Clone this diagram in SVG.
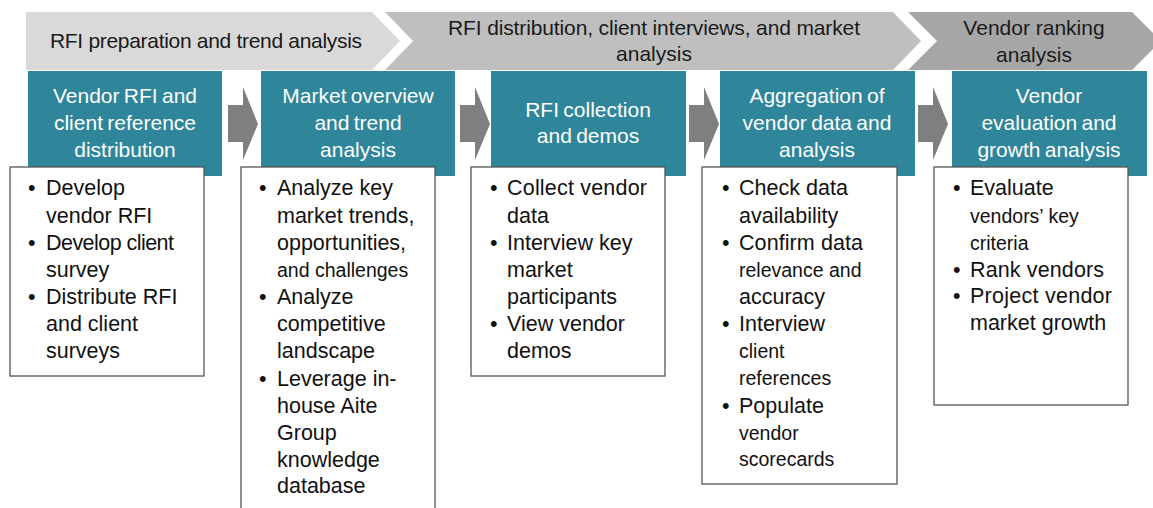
<svg xmlns="http://www.w3.org/2000/svg" width="1153" height="508" viewBox="0 0 1153 508">
<style>
text{font-family:"Liberation Sans",Arial,sans-serif}
.ph{font-size:21px;fill:#1a1a1a;text-anchor:middle}
.hd{fill:#2f8599}
.ht{font-size:21px;fill:#ffffff;text-anchor:middle;word-spacing:-1.5px}
.bx{fill:#ffffff;stroke:#555555;stroke-width:1.3}
.bt{font-size:21.5px;fill:#111111}
.sm{font-size:19.5px}
.ar{fill:#7f7f7f}
</style>
<rect width="1153" height="508" fill="#ffffff"/>
<g id="phases">
<g id="phase1">
<polygon points="26,12 372,12 400,41 372,70 26,70" fill="#d9d9d9"/>
<text class="ph" x="206" y="48" textLength="312" lengthAdjust="spacing">RFI preparation and trend analysis</text>
</g>
<g id="phase2">
<polygon points="385,12 893,12 921,41 893,70 385,70 413,41" fill="#bfbfbf"/>
<text class="ph" x="654" y="35" textLength="412" lengthAdjust="spacing">RFI distribution, client interviews, and market</text>
<text class="ph" x="654" y="61">analysis</text>
</g>
<g id="phase3">
<polygon points="908,12 1132,12 1161,41 1132,70 908,70 937,41" fill="#a6a6a6"/>
<text class="ph" x="1034" y="35">Vendor ranking</text>
<text class="ph" x="1034" y="62">analysis</text>
</g>
</g>
<g id="connectors">
<polygon class="ar" points="228,105 243,105 243,87 258,124 243,160 243,142 228,142"/>
<polygon class="ar" points="460,105 475,105 475,87 490,124 475,160 475,142 460,142"/>
<polygon class="ar" points="689,105 704,105 704,87 719,124 704,160 704,142 689,142"/>
<polygon class="ar" points="918,105 933,105 933,87 948,124 933,160 933,142 918,142"/>
</g>
<g id="step1">
<rect class="hd" x="28" y="71" width="194" height="105"/>
<text class="ht" x="125" y="103">Vendor RFI and</text>
<text class="ht" x="125" y="130">client reference</text>
<text class="ht" x="125" y="157">distribution</text>
<rect class="bx" x="10" y="167" width="194" height="209"/>
<text class="bt" x="28" y="195">•</text><text class="bt" x="46" y="195">Develop</text>
<text class="bt" x="46" y="223">vendor RFI</text>
<text class="bt" x="28" y="250">•</text><text class="bt" x="46" y="250" textLength="128" lengthAdjust="spacing">Develop client</text>
<text class="bt" x="46" y="277">survey</text>
<text class="bt" x="28" y="304">•</text><text class="bt" x="46" y="304">Distribute RFI</text>
<text class="bt" x="46" y="331">and client</text>
<text class="bt" x="46" y="358">surveys</text>
</g>
<g id="step2">
<rect class="hd" x="261" y="71" width="194" height="105"/>
<text class="ht" x="358" y="103">Market overview</text>
<text class="ht" x="358" y="130">and trend</text>
<text class="ht" x="358" y="157">analysis</text>
<rect class="bx" x="241" y="167" width="194" height="350"/>
<text class="bt" x="259" y="195">•</text><text class="bt" x="277" y="195">Analyze key</text>
<text class="bt" x="277" y="223">market trends,</text>
<text class="bt" x="277" y="250">opportunities,</text>
<text class="bt sm" x="277" y="277">and challenges</text>
<text class="bt" x="259" y="304">•</text><text class="bt" x="277" y="304">Analyze</text>
<text class="bt" x="277" y="331">competitive</text>
<text class="bt" x="277" y="358">landscape</text>
<text class="bt" x="259" y="386">•</text><text class="bt" x="277" y="386">Leverage in-</text>
<text class="bt" x="277" y="413">house Aite</text>
<text class="bt" x="277" y="440">Group</text>
<text class="bt" x="277" y="467">knowledge</text>
<text class="bt" x="277" y="493">database</text>
</g>
<g id="step3">
<rect class="hd" x="491" y="71" width="195" height="105"/>
<text class="ht" x="588" y="117">RFI collection</text>
<text class="ht" x="588" y="143">and demos</text>
<rect class="bx" x="471" y="167" width="194" height="209"/>
<text class="bt" x="490" y="195">•</text><text class="bt" x="507" y="195" textLength="140" lengthAdjust="spacing">Collect vendor</text>
<text class="bt" x="507" y="223">data</text>
<text class="bt" x="490" y="250">•</text><text class="bt" x="507" y="250">Interview key</text>
<text class="bt" x="507" y="277">market</text>
<text class="bt" x="507" y="304">participants</text>
<text class="bt" x="490" y="331">•</text><text class="bt" x="507" y="331">View vendor</text>
<text class="bt" x="507" y="358">demos</text>
</g>
<g id="step4">
<rect class="hd" x="720" y="71" width="195" height="105"/>
<text class="ht" x="817" y="103">Aggregation of</text>
<text class="ht" x="817" y="130">vendor data and</text>
<text class="ht" x="817" y="157">analysis</text>
<rect class="bx" x="702" y="167" width="195" height="317"/>
<text class="bt" x="722" y="195">•</text><text class="bt" x="739" y="195" textLength="109" lengthAdjust="spacing">Check data</text>
<text class="bt" x="739" y="223">availability</text>
<text class="bt" x="722" y="250">•</text><text class="bt" x="739" y="250" textLength="124" lengthAdjust="spacing">Confirm data</text>
<text class="bt sm" x="739" y="277">relevance and</text>
<text class="bt" x="739" y="304">accuracy</text>
<text class="bt" x="722" y="331">•</text><text class="bt" x="739" y="331">Interview</text>
<text class="bt sm" x="739" y="358">client</text>
<text class="bt sm" x="739" y="385">references</text>
<text class="bt" x="722" y="413">•</text><text class="bt" x="739" y="413">Populate</text>
<text class="bt sm" x="739" y="440">vendor</text>
<text class="bt sm" x="739" y="466">scorecards</text>
</g>
<g id="step5">
<rect class="hd" x="952" y="71" width="195" height="105"/>
<text class="ht" x="1049" y="103">Vendor</text>
<text class="ht" x="1049" y="130">evaluation and</text>
<text class="ht" x="1049" y="157">growth analysis</text>
<rect class="bx" x="934" y="167" width="194" height="238"/>
<text class="bt" x="953" y="195">•</text><text class="bt" x="970" y="195">Evaluate</text>
<text class="bt sm" x="970" y="223">vendors’ key</text>
<text class="bt sm" x="970" y="250">criteria</text>
<text class="bt" x="953" y="277">•</text><text class="bt" x="970" y="277" textLength="134" lengthAdjust="spacing">Rank vendors</text>
<text class="bt" x="953" y="303">•</text><text class="bt" x="970" y="303" textLength="142" lengthAdjust="spacing">Project vendor</text>
<text class="bt" x="970" y="330">market growth</text>
</g>
</svg>
